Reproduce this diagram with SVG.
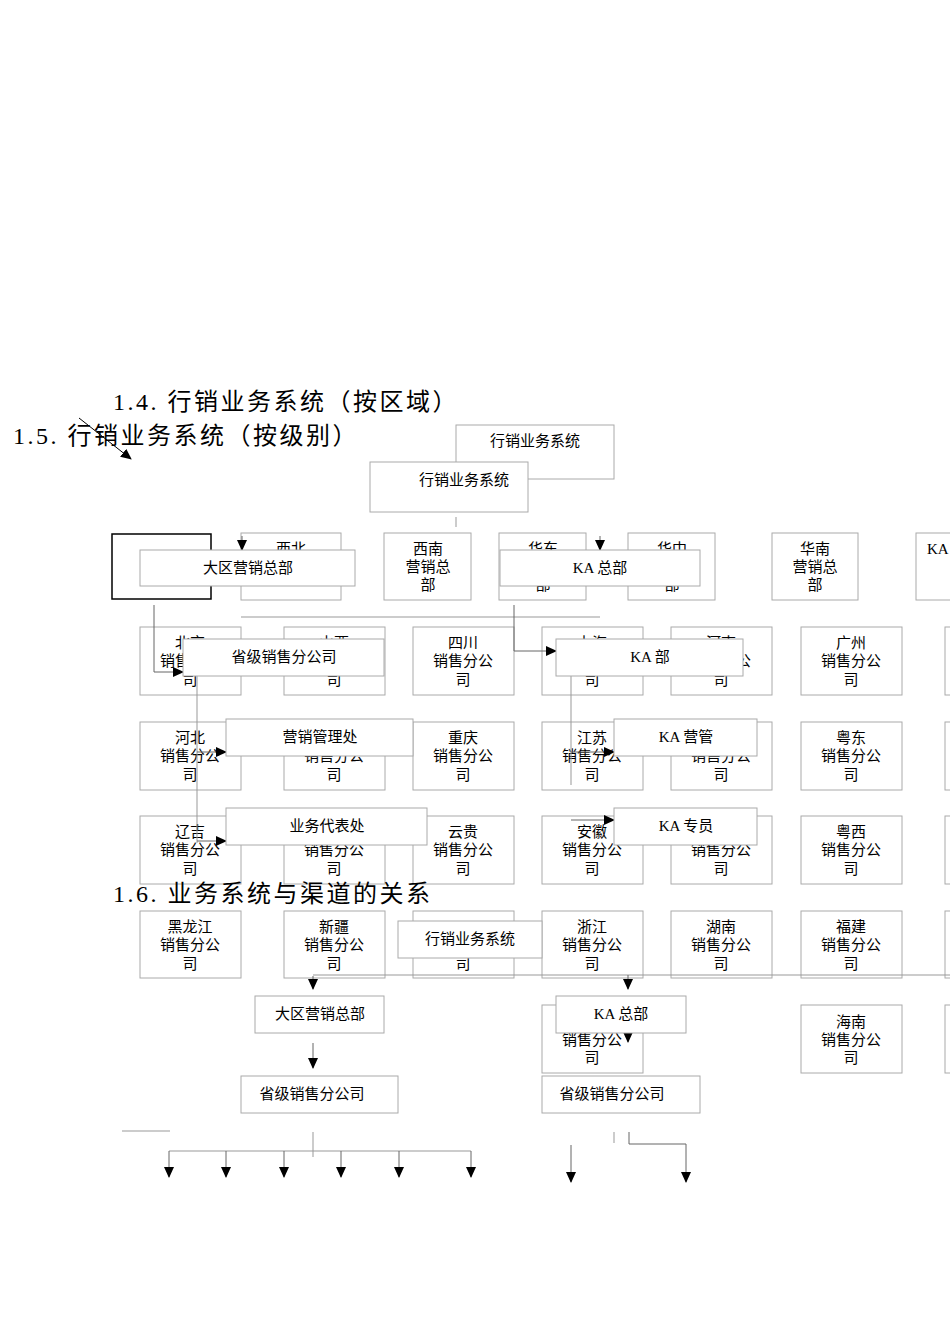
<svg xmlns="http://www.w3.org/2000/svg" width="950" height="1344" viewBox="0 0 950 1344">
<style>
text{font-family:"Liberation Serif","Noto Sans CJK SC",serif;fill:#000}
.b{fill:#fff;stroke:#aaa;stroke-width:1}
.t{font-size:15px;text-anchor:middle}
.h{font-size:24px;letter-spacing:2.5px}
.l{fill:none;stroke:#999;stroke-width:1}
.a{fill:none;stroke:#666;stroke-width:1;marker-end:url(#ar)}
</style>
<defs><marker id="ar" markerWidth="11" markerHeight="10" refX="10" refY="5" orient="auto" markerUnits="userSpaceOnUse"><path d="M0,0L11,5L0,10z" fill="#000"/></marker></defs>
<rect width="950" height="1344" fill="#fff"/>
<text class="h" x="113" y="410">1.4. 行销业务系统（按区域）</text>
<text class="h" x="13" y="444">1.5. 行销业务系统（按级别）</text>
<g id="top1"><rect class="b" x="456" y="425" width="158" height="54"/><text class="t" x="535" y="446">行销业务系统</text></g>
<g id="top2"><rect class="b" x="370" y="462" width="158" height="50"/><text class="t" x="464" y="485">行销业务系统</text></g>
<g id="thick"><rect x="112" y="534" width="99" height="65" fill="#fff" stroke="#000" stroke-width="1.5"/></g>
<g id="regions">
<g id="r1"><rect class="b" x="241" y="533" width="100" height="67"/><text class="t" x="291" y="554">西北</text></g>
<g id="r2"><rect class="b" x="384" y="533" width="87" height="67"/><text class="t" x="428" y="554">西南</text><text class="t" x="428" y="572">营销总</text><text class="t" x="428" y="590">部</text></g>
<g id="r3"><rect class="b" x="499" y="533" width="87" height="67"/><text class="t" x="543" y="554">华东</text><text class="t" x="543" y="590">部</text></g>
<g id="r4"><rect class="b" x="628" y="533" width="87" height="67"/><text class="t" x="672" y="554">华中</text><text class="t" x="672" y="590">部</text></g>
<g id="r5"><rect class="b" x="772" y="533" width="86" height="67"/><text class="t" x="815" y="554">华南</text><text class="t" x="815" y="572">营销总</text><text class="t" x="815" y="590">部</text></g>
<g id="r6"><rect class="b" x="916" y="533" width="50" height="67"/><text x="927" y="554" style="font-size:15px">KA</text></g>
</g>
<g id="provinces">
<g><rect class="b" x="140" y="627" width="101" height="68"/><text class="t" x="190" y="648">北京</text><text class="t" x="190" y="666">销售分公</text><text class="t" x="190" y="685">司</text></g>
<g><rect class="b" x="284" y="627" width="101" height="68"/><text class="t" x="334" y="648">山西</text><text class="t" x="334" y="685">司</text></g>
<g><rect class="b" x="413" y="627" width="101" height="68"/><text class="t" x="463" y="648">四川</text><text class="t" x="463" y="666">销售分公</text><text class="t" x="463" y="685">司</text></g>
<g><rect class="b" x="542" y="627" width="101" height="68"/><text class="t" x="592" y="648">上海</text><text class="t" x="592" y="685">司</text></g>
<g><rect class="b" x="671" y="627" width="101" height="68"/><text class="t" x="721" y="648">河南</text><text class="t" x="721" y="666">销售分公</text><text class="t" x="721" y="685">司</text></g>
<g><rect class="b" x="801" y="627" width="101" height="68"/><text class="t" x="851" y="648">广州</text><text class="t" x="851" y="666">销售分公</text><text class="t" x="851" y="685">司</text></g>
<g><rect class="b" x="945" y="627" width="30" height="68"/></g>
<g><rect class="b" x="140" y="722" width="101" height="68"/><text class="t" x="190" y="743">河北</text><text class="t" x="190" y="761">销售分公</text><text class="t" x="190" y="780">司</text></g>
<g><rect class="b" x="284" y="722" width="101" height="68"/><text class="t" x="334" y="761">销售分公</text><text class="t" x="334" y="780">司</text></g>
<g><rect class="b" x="413" y="722" width="101" height="68"/><text class="t" x="463" y="743">重庆</text><text class="t" x="463" y="761">销售分公</text><text class="t" x="463" y="780">司</text></g>
<g><rect class="b" x="542" y="722" width="101" height="68"/><text class="t" x="592" y="743">江苏</text><text class="t" x="592" y="761">销售分公</text><text class="t" x="592" y="780">司</text></g>
<g><rect class="b" x="671" y="722" width="101" height="68"/><text class="t" x="721" y="761">销售分公</text><text class="t" x="721" y="780">司</text></g>
<g><rect class="b" x="801" y="722" width="101" height="68"/><text class="t" x="851" y="743">粤东</text><text class="t" x="851" y="761">销售分公</text><text class="t" x="851" y="780">司</text></g>
<g><rect class="b" x="945" y="722" width="30" height="68"/></g>
<g><rect class="b" x="140" y="816" width="101" height="68"/><text class="t" x="190" y="837">辽吉</text><text class="t" x="190" y="855">销售分公</text><text class="t" x="190" y="874">司</text></g>
<g><rect class="b" x="284" y="816" width="101" height="68"/><text class="t" x="334" y="855">销售分公</text><text class="t" x="334" y="874">司</text></g>
<g><rect class="b" x="413" y="816" width="101" height="68"/><text class="t" x="463" y="837">云贵</text><text class="t" x="463" y="855">销售分公</text><text class="t" x="463" y="874">司</text></g>
<g><rect class="b" x="542" y="816" width="101" height="68"/><text class="t" x="592" y="837">安徽</text><text class="t" x="592" y="855">销售分公</text><text class="t" x="592" y="874">司</text></g>
<g><rect class="b" x="671" y="816" width="101" height="68"/><text class="t" x="721" y="855">销售分公</text><text class="t" x="721" y="874">司</text></g>
<g><rect class="b" x="801" y="816" width="101" height="68"/><text class="t" x="851" y="837">粤西</text><text class="t" x="851" y="855">销售分公</text><text class="t" x="851" y="874">司</text></g>
<g><rect class="b" x="945" y="816" width="30" height="68"/></g>
<g><rect class="b" x="140" y="911" width="101" height="67"/><text class="t" x="190" y="932">黑龙江</text><text class="t" x="190" y="950">销售分公</text><text class="t" x="190" y="969">司</text></g>
<g><rect class="b" x="284" y="911" width="101" height="67"/><text class="t" x="334" y="932">新疆</text><text class="t" x="334" y="950">销售分公</text><text class="t" x="334" y="969">司</text></g>
<g><rect class="b" x="413" y="911" width="101" height="67"/><text class="t" x="463" y="969">司</text></g>
<g><rect class="b" x="542" y="911" width="101" height="67"/><text class="t" x="592" y="932">浙江</text><text class="t" x="592" y="950">销售分公</text><text class="t" x="592" y="969">司</text></g>
<g><rect class="b" x="671" y="911" width="101" height="67"/><text class="t" x="721" y="932">湖南</text><text class="t" x="721" y="950">销售分公</text><text class="t" x="721" y="969">司</text></g>
<g><rect class="b" x="801" y="911" width="101" height="67"/><text class="t" x="851" y="932">福建</text><text class="t" x="851" y="950">销售分公</text><text class="t" x="851" y="969">司</text></g>
<g><rect class="b" x="945" y="911" width="30" height="67"/></g>
<g><rect class="b" x="542" y="1005" width="101" height="68"/><text class="t" x="592" y="1045">销售分公</text><text class="t" x="592" y="1063">司</text></g>
<g><rect class="b" x="801" y="1005" width="101" height="68"/><text class="t" x="851" y="1027">海南</text><text class="t" x="851" y="1045">销售分公</text><text class="t" x="851" y="1063">司</text></g>
<g><rect class="b" x="945" y="1005" width="30" height="68"/></g>
</g>
<g id="connectors">
<line class="l" x1="456" y1="517" x2="456" y2="527"/>
<line class="l" x1="241" y1="617" x2="600" y2="617"/>
<line class="a" x1="242" y1="536" x2="242" y2="550"/>
<line class="a" x1="600" y1="536" x2="600" y2="550"/>
<polyline class="a" points="154,605 154,672 183,672"/>
<polyline class="l" points="197,676 197,843"/>
<line class="a" x1="197" y1="752" x2="226" y2="752"/>
<line class="a" x1="197" y1="841" x2="226" y2="841"/>
<polyline class="a" points="514,605 514,651 556,651"/>
<line class="l" x1="571" y1="676" x2="571" y2="785"/>
<line class="a" x1="571" y1="752" x2="614" y2="752"/>
<line class="a" x1="571" y1="820" x2="614" y2="820"/>
<polyline class="a" points="313,976 313,989"/>
<polyline class="l" points="313,975 950,975"/>
<polyline class="a" points="628,975 628,989"/>
<line class="a" x1="313" y1="1043" x2="313" y2="1068"/>
<line class="a" x1="628" y1="1023" x2="628" y2="1042"/>
<line class="l" x1="122" y1="1131" x2="170" y2="1131"/>
<line class="l" x1="313" y1="1132" x2="313" y2="1157"/>
<line class="l" x1="169" y1="1151" x2="471" y2="1151"/>
<line class="a" x1="169" y1="1151" x2="169" y2="1177"/>
<line class="a" x1="226" y1="1151" x2="226" y2="1177"/>
<line class="a" x1="284" y1="1151" x2="284" y2="1177"/>
<line class="a" x1="341" y1="1151" x2="341" y2="1177"/>
<line class="a" x1="399" y1="1151" x2="399" y2="1177"/>
<line class="a" x1="471" y1="1151" x2="471" y2="1177"/>
<line class="l" x1="614" y1="1132" x2="614" y2="1143"/>
<polyline class="a" points="629,1132 629,1144 686,1144 686,1182"/>
<line class="a" x1="571" y1="1145" x2="571" y2="1182"/>
<line x1="79" y1="418" x2="131" y2="459" stroke="#000" stroke-width="1" marker-end="url(#ar)"/>
</g>
<g id="ov1"><rect class="b" x="140" y="550" width="215" height="36"/><text class="t" x="248" y="573">大区营销总部</text></g>
<g id="ov2"><rect class="b" x="500" y="550" width="200" height="36"/><text class="t" x="600" y="573">KA 总部</text></g>
<g id="ov3"><rect class="b" x="183" y="639" width="201" height="37"/><text class="t" x="284" y="662">省级销售分公司</text></g>
<g id="ov4"><rect class="b" x="556" y="639" width="187" height="37"/><text class="t" x="650" y="662">KA 部</text></g>
<g id="ov5"><rect class="b" x="226" y="719" width="187" height="37"/><text class="t" x="320" y="742">营销管理处</text></g>
<g id="ov6"><rect class="b" x="614" y="719" width="143" height="37"/><text class="t" x="686" y="742">KA 营管</text></g>
<g id="ov7"><rect class="b" x="226" y="808" width="201" height="37"/><text class="t" x="327" y="831">业务代表处</text></g>
<g id="ov8"><rect class="b" x="614" y="808" width="143" height="37"/><text class="t" x="686" y="831">KA 专员</text></g>
<text class="h" x="113" y="902">1.6. 业务系统与渠道的关系</text>
<g id="ov9"><rect class="b" x="398" y="921" width="144" height="37"/><text class="t" x="470" y="944">行销业务系统</text></g>
<g id="b1"><rect class="b" x="255" y="996" width="129" height="37"/><text class="t" x="320" y="1019">大区营销总部</text></g>
<g id="b2"><rect class="b" x="556" y="996" width="130" height="37"/><text class="t" x="621" y="1019">KA 总部</text></g>
<g id="b3"><rect class="b" x="241" y="1076" width="157" height="37"/><text class="t" x="312" y="1099">省级销售分公司</text></g>
<g id="b4"><rect class="b" x="542" y="1076" width="158" height="37"/><text class="t" x="612" y="1099">省级销售分公司</text></g>
</svg>
